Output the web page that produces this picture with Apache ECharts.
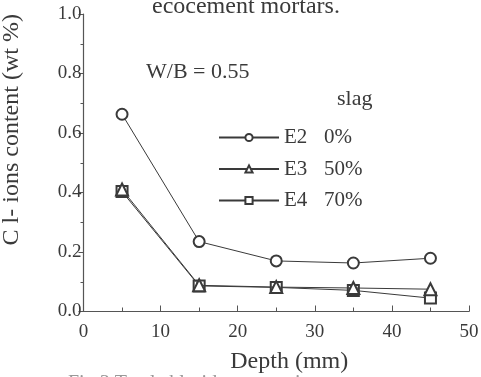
<!DOCTYPE html>
<html>
<head>
<meta charset="utf-8">
<script src="https://cdn.jsdelivr.net/npm/echarts@6/dist/echarts.min.js"></script>
<style>
  html, body { margin: 0; padding: 0; background: #fff; }
  #chart { width: 481px; height: 377px; }
</style>
</head>
<body>
<div id="chart"></div>
<script>
const depth = [5, 15, 25, 35, 45];
const seriesNames = ['E2', 'E3', 'E4'];
const slagLabels = ['0%', '50%', '70%'];
const e2Values = [0.663, 0.235, 0.170, 0.163, 0.179];
const e3Values = [0.41, 0.088, 0.082, 0.079, 0.075];
const e4Values = [0.403, 0.086, 0.081, 0.071, 0.045];
const symbols = ['emptyCircle', 'emptyTriangle', 'emptyRect'];

const ink = '#3a3a3a';
const font = 'Liberation Serif';

const chart = echarts.init(document.getElementById('chart'));

const allValues = [e2Values, e3Values, e4Values];

const series = seriesNames.map((name, i) => ({
  name: name,
  type: 'line',
  data: depth.map((d, j) => [d, allValues[i][j]]),
  symbol: symbols[i],
  symbolSize: i === 1 ? 12 : 11,
  lineStyle: { color: ink, width: 1 },
  itemStyle: { color: ink, borderColor: ink, borderWidth: 1.2 },
  z: 3 - i
}));

chart.setOption({
  backgroundColor: '#fff',
  animation: false,
  textStyle: { fontFamily: font, color: ink },
  grid: { left: 83.5, right: 12, top: 14, bottom: 65.5, outerBoundsMode: 'none', containLabel: false },
  legend: {
    orient: 'vertical',
    left: 213,
    top: 122,
    itemWidth: 60,
    itemHeight: 9,
    itemGap: 10.5,
    data: seriesNames,
    textStyle: {
      fontFamily: font,
      color: ink,
      fontSize: 21,
      rich: {
        a: { fontFamily: font, fontSize: 21, color: ink, width: 40 },
        b: { fontFamily: font, fontSize: 21, color: ink }
      }
    },
    formatter: name => '{a|' + name + '}{b|' + slagLabels[seriesNames.indexOf(name)] + '}'
  },
  xAxis: {
    type: 'value',
    min: 0,
    max: 50,
    interval: 10,
    name: 'Depth (mm)',
    nameLocation: 'middle',
    nameGap: 38,
    nameTextStyle: { fontFamily: font, fontSize: 24, color: ink, padding: [0, 0, 0, 26] },
    axisLine: { show: true, lineStyle: { color: '#555', width: 1.2 } },
    axisTick: { show: true, inside: true, length: 6, lineStyle: { color: '#555' } },
    minorTick: { show: true, splitNumber: 2, length: 4, lineStyle: { color: '#555' } },
    axisLabel: { fontFamily: font, fontSize: 19, color: ink, margin: 11 },
    splitLine: { show: false }
  },
  yAxis: {
    type: 'value',
    min: 0,
    max: 1,
    interval: 0.2,
    name: 'C l- ions content (wt %)',
    nameLocation: 'middle',
    nameGap: 60,
    nameTextStyle: { fontFamily: font, fontSize: 24, color: ink, padding: [0, 0, 0, 66] },
    axisLine: { show: true, lineStyle: { color: '#555', width: 1.2 } },
    axisTick: { show: true, length: 5, lineStyle: { color: '#555' } },
    minorTick: { show: true, splitNumber: 2, length: 3, lineStyle: { color: '#555' } },
    axisLabel: {
      fontFamily: font,
      fontSize: 19,
      color: ink,
      margin: 2,
      formatter: v => v.toFixed(1)
    },
    splitLine: { show: false }
  },
  graphic: [
    {
      type: 'text',
      left: 152,
      top: -5,
      style: { text: 'ecocement mortars.', fontFamily: font, fontSize: 24, fill: ink }
    },
    {
      type: 'text',
      left: 146,
      top: 61,
      style: { text: 'W/B = 0.55', fontFamily: font, fontSize: 22, fill: ink }
    },
    {
      type: 'text',
      left: 337,
      top: 88,
      style: { text: 'slag', fontFamily: font, fontSize: 22, fill: ink }
    },
    {
      type: 'text',
      left: 68,
      top: 374,
      style: { text: 'Fig.3 Total chloride content in', fontFamily: font, fontSize: 20, fill: '#999' }
    }
  ],
  series: series
});
</script>
</body>
</html>
